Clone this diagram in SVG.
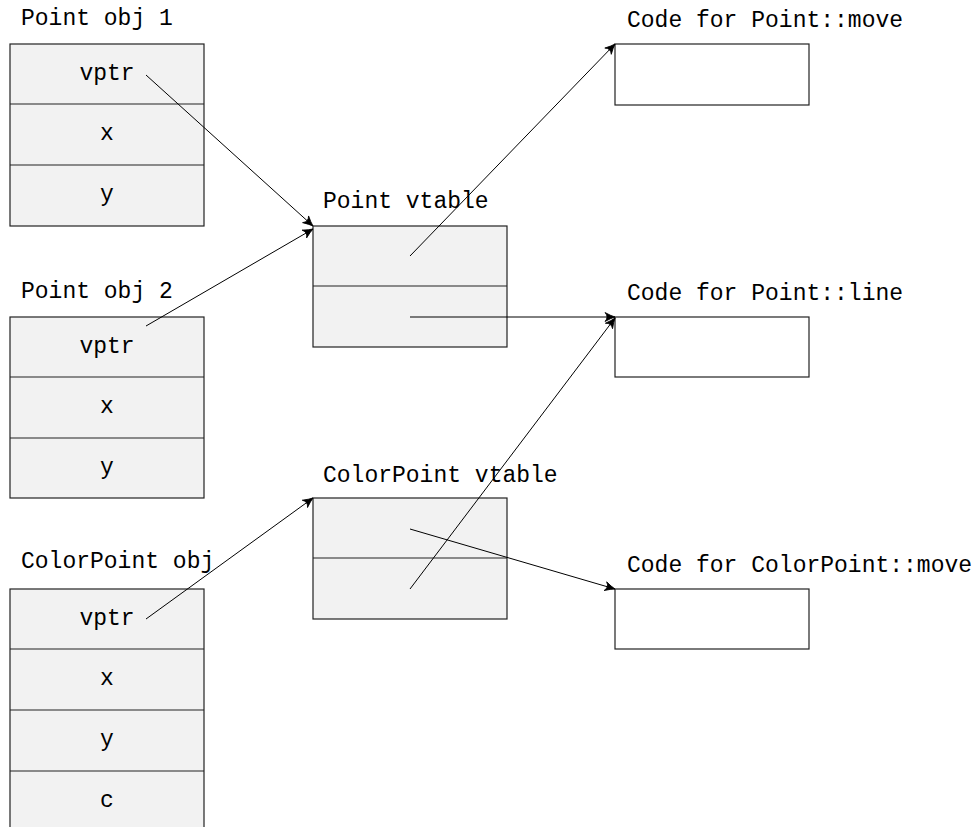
<svg xmlns="http://www.w3.org/2000/svg" width="979" height="827" viewBox="0 0 979 827">
<defs>
<style>
.box{fill:#f2f2f2;stroke:#222;stroke-width:1.2}
.code{fill:#fff;stroke:#222;stroke-width:1.2}
.sep{stroke:#222;stroke-width:1.2}
text{font-family:"Liberation Mono","DejaVu Sans Mono",monospace;font-size:23px;fill:#000}
.c{text-anchor:middle}
.con{stroke:#000;stroke-width:1;fill:none;marker-end:url(#arr)}
</style>
<marker id="arr" markerUnits="userSpaceOnUse" markerWidth="14" markerHeight="12" viewBox="-11 -6 12 12" refX="0" refY="0" orient="auto">
<path d="M -10 -4.5 Q -4 -1.2 0 0 Q -4 1.2 -10 4.5 Q -6 0 -10 -4.5 Z" fill="#000" stroke="#000" stroke-width="0.8" stroke-linejoin="round"/>
</marker>
</defs>
<rect width="979" height="827" fill="#fff"/>
<g id="pointobj1">
<text x="21" y="25">Point obj 1</text>
<rect class="box" x="10" y="44" width="194" height="182"/>
<line class="sep" x1="10" y1="104" x2="204" y2="104"/>
<line class="sep" x1="10" y1="165" x2="204" y2="165"/>
<text class="c" x="107" y="80">vptr</text>
<text class="c" x="107" y="140">x</text>
<text class="c" x="107" y="201">y</text>
</g>
<g id="pointobj2">
<text x="21" y="298">Point obj 2</text>
<rect class="box" x="10" y="317" width="194" height="181"/>
<line class="sep" x1="10" y1="377" x2="204" y2="377"/>
<line class="sep" x1="10" y1="438" x2="204" y2="438"/>
<text class="c" x="107" y="353">vptr</text>
<text class="c" x="107" y="413">x</text>
<text class="c" x="107" y="474">y</text>
</g>
<g id="colorpointobj">
<text x="21" y="568">ColorPoint obj</text>
<rect class="box" x="10" y="589" width="194" height="243"/>
<line class="sep" x1="10" y1="649" x2="204" y2="649"/>
<line class="sep" x1="10" y1="710" x2="204" y2="710"/>
<line class="sep" x1="10" y1="771" x2="204" y2="771"/>
<text class="c" x="107" y="625">vptr</text>
<text class="c" x="107" y="685">x</text>
<text class="c" x="107" y="746">y</text>
<text class="c" x="107" y="807">c</text>
</g>
<g id="pointvtable">
<text x="323" y="208">Point vtable</text>
<rect class="box" x="313" y="226" width="194" height="121"/>
<line class="sep" x1="313" y1="286" x2="507" y2="286"/>
</g>
<g id="colorpointvtable">
<text x="323" y="482">ColorPoint vtable</text>
<rect class="box" x="313" y="498" width="194" height="121"/>
<line class="sep" x1="313" y1="558" x2="507" y2="558"/>
</g>
<g id="codemove">
<text x="627" y="27">Code for Point::move</text>
<rect class="code" x="615" y="44" width="194" height="61"/>
</g>
<g id="codeline">
<text x="627" y="300">Code for Point::line</text>
<rect class="code" x="615" y="317" width="194" height="60"/>
</g>
<g id="codecpmove">
<text x="627" y="572">Code for ColorPoint::move</text>
<rect class="code" x="615" y="589" width="194" height="60"/>
</g>
<g id="connectors">
<line class="con" x1="146" y1="75" x2="313" y2="226"/>
<line class="con" x1="146" y1="326" x2="313" y2="229"/>
<line class="con" x1="410" y1="256" x2="615" y2="44"/>
<line class="con" x1="410" y1="317" x2="615" y2="317"/>
<line class="con" x1="146" y1="619" x2="313" y2="498"/>
<line class="con" x1="410" y1="529" x2="615" y2="589"/>
<line class="con" x1="410" y1="589" x2="615" y2="318"/>
</g>
</svg>
